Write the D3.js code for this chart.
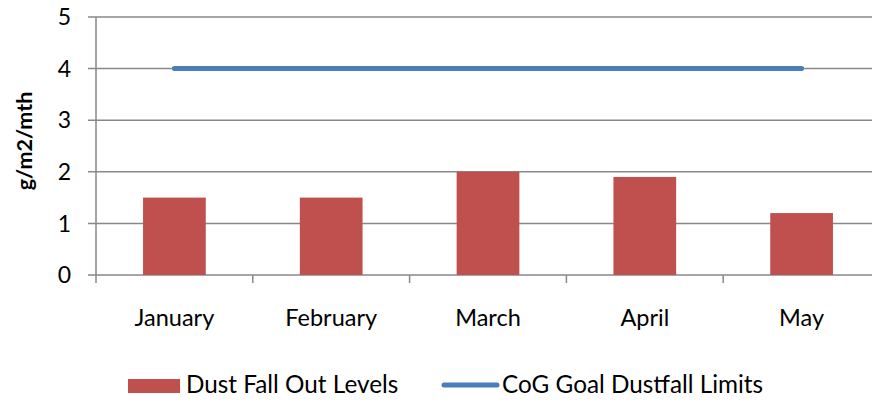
<!DOCTYPE html>
<html><head><meta charset="utf-8">
<script src="https://cdn.jsdelivr.net/npm/d3@7"></script>
<style>body{margin:0;background:#fff}svg{display:block}text{font-family:Lato,"Open Sans",sans-serif;fill:#000}</style>
</head><body>
<svg id="c" width="872" height="401"></svg>
<script>
const categories = ["January","February","March","April","May"];
const dustValues = [1.5,1.5,2.0,1.9,1.2];
const goalValues = [4,4,4,4,4];
const yTicks = [0,1,2,3,4,5];
const seriesNames = ["Dust Fall Out Levels","CoG Goal Dustfall Limits"];

const svg = d3.select("#c");
const m = {l:96, r:-8, t:17, b:126};
const W = 872, H = 401;
const x = d3.scaleBand().domain(categories).range([m.l, W - m.r]).paddingInner(0.6).paddingOuter(0.3);
const xc = d3.scaleBand().domain(categories).range([m.l, W - m.r]);
const y = d3.scaleLinear().domain([0,5]).range([H - m.b, m.t]);
const grid = "#888";

// gridlines
svg.append("g").selectAll("line").data(yTicks).join("line")
  .attr("x1", m.l - 8).attr("x2", W - m.r).attr("y1", d=>y(d)).attr("y2", d=>y(d))
  .attr("stroke", grid).attr("stroke-width", 1.5);
// y axis line
svg.append("line").attr("x1", m.l).attr("x2", m.l).attr("y1", y(5)).attr("y2", y(0)+8)
  .attr("stroke", grid).attr("stroke-width", 1.5);
// x category ticks
svg.append("g").selectAll("line").data(categories.slice(1)).join("line")
  .attr("x1", d=>xc(d)).attr("x2", d=>xc(d)).attr("y1", y(0)).attr("y2", y(0)+8)
  .attr("stroke", grid).attr("stroke-width", 1.5);
// y tick labels
svg.append("g").selectAll("text").data(yTicks).join("text")
  .attr("x", 71).attr("y", d=>y(d)).attr("dy", "0.36em").attr("text-anchor","end")
  .attr("font-size", 23).text(d=>d);
// bars
svg.append("g").selectAll("rect").data(dustValues).join("rect")
  .attr("x", (d,i)=>x(categories[i])).attr("width", x.bandwidth())
  .attr("y", d=>y(d)).attr("height", d=>y(0)-y(d)).attr("fill","#c0504d");
// line
const line = d3.line().x((d,i)=>xc(categories[i]) + xc.bandwidth()/2).y(d=>y(d));
svg.append("path").datum(goalValues).attr("d", line).attr("fill","none")
  .attr("stroke","#4a7ebb").attr("stroke-width",5).attr("stroke-linecap","round");
// x labels
svg.append("g").selectAll("text").data(categories).join("text")
  .attr("x", d=>xc(d)+xc.bandwidth()/2).attr("y", 326).attr("text-anchor","middle")
  .attr("font-size", 23.5).text(d=>d);
// y axis title
svg.append("text").attr("transform","translate(32,141) rotate(-90)").attr("text-anchor","middle")
  .attr("font-size", 21.5).attr("font-weight","bold").text("g/m2/mth");
// legend
svg.append("rect").attr("x",128).attr("y",379).attr("width",52).attr("height",14).attr("fill","#c0504d");
svg.append("text").attr("x",186).attr("y",393).attr("font-size",24.3).text(seriesNames[0]);
svg.append("line").attr("x1",444).attr("x2",497).attr("y1",385).attr("y2",385)
  .attr("stroke","#4a7ebb").attr("stroke-width",5).attr("stroke-linecap","round");
svg.append("text").attr("x",502).attr("y",393).attr("font-size",24.3).text(seriesNames[1]);
</script>
</body></html>
